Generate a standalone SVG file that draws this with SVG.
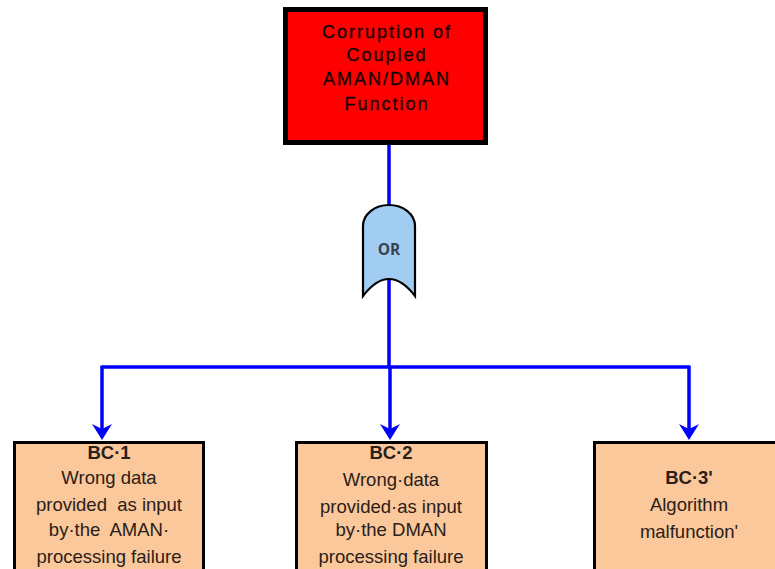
<svg xmlns="http://www.w3.org/2000/svg" width="775" height="569" viewBox="0 0 775 569">
<style>
.top{font-family:"Liberation Sans",Arial,sans-serif;font-size:18px;letter-spacing:2px;fill:#150505;text-anchor:middle;stroke:#150505;stroke-width:0.3}
.bc{font-family:"Liberation Sans",Arial,sans-serif;font-size:18.5px;fill:#2a2018;text-anchor:middle;white-space:pre}
.bcb{font-weight:bold}
.wire{fill:none;stroke:#0000FF;stroke-width:3.5}
.box{fill:#FBC89B;stroke:#000;stroke-width:3}
</style>
<defs>
<marker id="arr" viewBox="0 0 16 20" refX="5" refY="10" markerWidth="16" markerHeight="20" markerUnits="userSpaceOnUse" orient="auto">
<path d="M0,0 L16,10 L0,20 L5,10 Z" fill="#0000FF"/>
</marker>
</defs>
<g id="connectors">
<path class="wire" d="M389,145 L389,207"/>
<path class="wire" d="M389,280 L389,367"/>
<path class="wire" d="M102,367 L689,367"/>
<path class="wire" d="M102,365.5 L102,429" marker-end="url(#arr)"/>
<path class="wire" d="M390,367 L390,429" marker-end="url(#arr)"/>
<path class="wire" d="M689,365.5 L689,429" marker-end="url(#arr)"/>
</g>
<g id="top-event">
<rect x="285.5" y="9.5" width="200" height="133" fill="#FF0000" stroke="#000" stroke-width="5"/>
<text class="top" x="387" y="38">Corruption of</text>
<text class="top" x="387" y="61">Coupled</text>
<text class="top" x="387" y="85" letter-spacing="1.2">AMAN/DMAN</text>
<text class="top" x="387" y="110">Function</text>
</g>
<g id="or-gate">
<path d="M363,226 A26,21 0 0 1 415,226 L415,296 Q389,262 363,296 Z" fill="#A2CDF2" stroke="#000" stroke-width="2.2"/>
<text x="389" y="255" font-family="'Open Sans','Liberation Sans',sans-serif" font-size="15.5" font-weight="bold" fill="#3a4050" text-anchor="middle">OR</text>
</g>
<g id="bc1">
<rect class="box" x="14.5" y="442.5" width="189" height="140"/>
<text class="bc bcb" x="109" y="459">BC·1</text>
<text class="bc" x="109" y="484">Wrong data</text>
<text class="bc" x="109" y="511">provided  as input</text>
<text class="bc" x="109" y="536">by·the  AMAN·</text>
<text class="bc" x="109" y="563">processing failure</text>
</g>
<g id="bc2">
<rect class="box" x="296.5" y="442.5" width="190" height="140"/>
<text class="bc bcb" x="391" y="459">BC·2</text>
<text class="bc" x="391" y="486">Wrong·data</text>
<text class="bc" x="391" y="513">provided·as input</text>
<text class="bc" x="391" y="536">by·the DMAN</text>
<text class="bc" x="391" y="563">processing failure</text>
</g>
<g id="bc3">
<rect class="box" x="594.5" y="442.5" width="300" height="140"/>
<text class="bc bcb" x="689" y="484">BC·3'</text>
<text class="bc" x="689" y="511">Algorithm</text>
<text class="bc" x="689" y="538">malfunction'</text>
</g>
</svg>
